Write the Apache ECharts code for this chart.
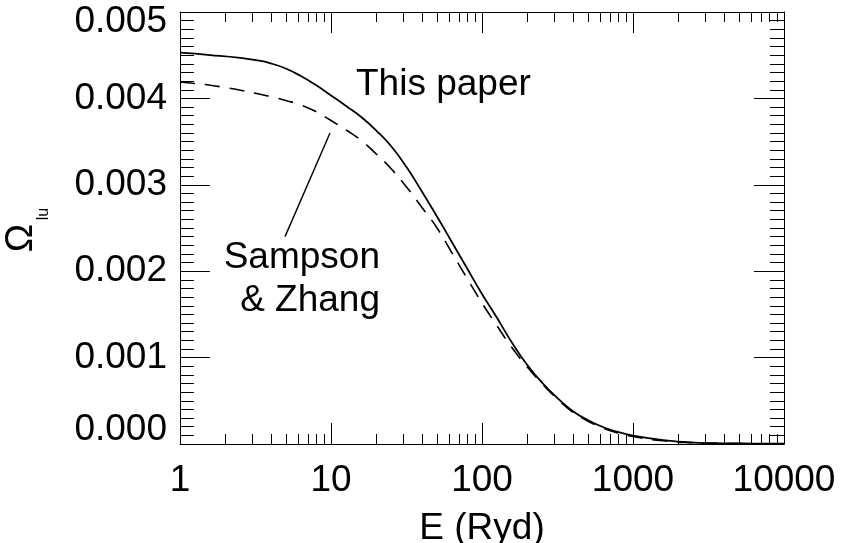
<!DOCTYPE html>
<html>
<head>
<meta charset="utf-8">
<title>Collision strength vs energy</title>
<script src="https://cdn.jsdelivr.net/npm/echarts@6/dist/echarts.min.js"></script>
<style>
  html, body { margin: 0; padding: 0; background: #fff; }
  #chart { width: 841px; height: 543px; }
</style>
</head>
<body>
<div id="chart"></div>
<script>
// Energy grid (Ryd) and collision strengths for the two calculations
const energyThisPaper = [1, 1.585, 2.512, 3.162, 3.981, 5.012, 6.31, 7.943, 10, 12.59, 15.85, 19.95, 25.12, 31.62, 39.81, 50.12, 63.1, 79.43, 100, 125.9, 158.5, 199.5, 251.2, 316.2, 398.1, 501.2, 631, 794.3, 1000, 1585, 2512, 3981, 6310, 10000];
const omegaThisPaper  = [0.004529, 0.004502, 0.004470, 0.004444, 0.004406, 0.004346, 0.004259, 0.004155, 0.004034, 0.003912, 0.003785, 0.003628, 0.003443, 0.003206, 0.002928, 0.002639, 0.002338, 0.002037, 0.001736, 0.001458, 0.001169, 0.000914, 0.000706, 0.000532, 0.000382, 0.000278, 0.000197, 0.000139, 0.000098, 0.000046, 0.000017, 0.000008, 0.000005, 0.000003];

const energySampson = [1, 1.259, 1.585, 1.995, 2.512, 3.162, 3.981, 5.012, 6.31, 7.943, 10, 12.59, 15.85, 19.95, 25.12, 31.62, 39.81, 50.12, 63.1, 79.43, 100, 125.9, 158.5, 199.5, 251.2, 316.2, 398.1, 501.2, 631, 794.3, 1000, 1585, 2512, 3981, 10000];
const omegaSampson  = [0.004190, 0.004172, 0.004153, 0.004125, 0.004094, 0.004059, 0.004021, 0.003976, 0.003924, 0.003848, 0.003744, 0.003634, 0.003513, 0.003356, 0.003183, 0.002975, 0.002743, 0.002506, 0.002216, 0.001921, 0.001632, 0.001366, 0.001111, 0.000891, 0.000694, 0.000521, 0.000370, 0.000266, 0.000185, 0.000127, 0.000087, 0.000037, 0.000014, 0.000006, 0.000002];

// Axis ticks
const xMajorTicks = [1, 10, 100, 1000, 10000];
const xMinorTicks = [2, 3, 4, 5, 6, 7, 8, 9, 20, 30, 40, 50, 60, 70, 80, 90, 200, 300, 400, 500, 600, 700, 800, 900, 2000, 3000, 4000, 5000, 6000, 7000, 8000, 9000];
const yTickLabels = ['0.000', '0.001', '0.002', '0.003', '0.004', '0.005'];

// Leader line from the Sampson & Zhang label to its curve, in data units
const leaderLine = [[4.96, 0.00240], [9.85, 0.00360]];

const FONT = "'Liberation Sans', Arial, Helvetica, sans-serif";
const FS = 37;

const chart = echarts.init(document.getElementById('chart'), null, { renderer: 'canvas' });

function yLabel(v) {
  const idx = Math.round(v / 0.001);
  const txt = yTickLabels[idx];
  if (idx === 0) return '{bot|' + txt + '}';
  if (idx === yTickLabels.length - 1) return '{top|' + txt + '}';
  return txt;
}

const yAxisCommon = {
  type: 'value',
  min: 0,
  max: 0.005,
  interval: 0.001,
  axisLine: { show: true, lineStyle: { color: '#000', width: 1 } },
  axisTick: { show: true, inside: true, length: 30, lineStyle: { color: '#000', width: 1 } },
  minorTick: { show: true, splitNumber: 10, length: 14, lineStyle: { color: '#000', width: 1 } },
  splitLine: { show: false },
  minorSplitLine: { show: false }
};

const xAxisCommon = {
  type: 'log',
  logBase: 10,
  min: 1,
  max: 10000,
  axisLine: { show: true, onZero: false, lineStyle: { color: '#000', width: 1 } },
  axisTick: { show: true, inside: true, length: 21, lineStyle: { color: '#000', width: 1 } },
  splitLine: { show: false }
};

const option = {
  backgroundColor: '#fff',
  animation: false,
  grid: { left: 180, right: 57, top: 12, bottom: 99, containLabel: false, outerBoundsMode: 'none' },
  xAxis: [
    Object.assign({}, xAxisCommon, {
      position: 'bottom',
      name: 'E (Ryd)',
      nameLocation: 'middle',
      nameGap: 66,
      nameTextStyle: { color: '#000', fontSize: FS, fontFamily: FONT },
      axisLabel: {
        show: true, margin: 18, color: '#000', fontSize: FS, fontFamily: FONT,
        formatter: function (v) {
          const r = Math.round(v);
          return xMajorTicks.indexOf(r) >= 0 ? String(r) : '';
        }
      }
    }),
    Object.assign({}, xAxisCommon, { position: 'top', axisLabel: { show: false } })
  ],
  yAxis: [
    Object.assign({}, yAxisCommon, {
      position: 'left',
      axisLabel: {
        show: true, margin: 13, color: '#000', fontSize: FS, fontFamily: FONT,
        formatter: yLabel,
        rich: {
          top: { fontSize: FS, fontFamily: FONT, color: '#000', padding: [20, 0, 0, 0] },
          bot: { fontSize: FS, fontFamily: FONT, color: '#000', padding: [0, 0, 28, 0] }
        }
      }
    }),
    Object.assign({}, yAxisCommon, { position: 'right', axisLabel: { show: false } })
  ],
  series: [
    {
      name: 'This paper',
      type: 'line',
      xAxisIndex: 0, yAxisIndex: 0,
      data: energyThisPaper.map((e, i) => [e, omegaThisPaper[i]]),
      showSymbol: false,
      smooth: 0.5,
      lineStyle: { color: '#000', width: 1.8, type: 'solid' },
      z: 4
    },
    {
      name: 'Sampson & Zhang',
      type: 'line',
      xAxisIndex: 0, yAxisIndex: 0,
      data: energySampson.map((e, i) => [e, omegaSampson[i]]),
      showSymbol: false,
      smooth: 0.5,
      lineStyle: { color: '#000', width: 1.6, type: [15, 10] },
      markLine: {
        silent: true,
        symbol: ['none', 'none'],
        label: { show: false },
        lineStyle: { color: '#000', width: 1.4, type: 'solid' },
        data: [[{ coord: leaderLine[0] }, { coord: leaderLine[1] }]]
      },
      z: 4
    },
    {
      // minor decade ticks along the bottom and top edges
      type: 'custom',
      xAxisIndex: 0, yAxisIndex: 0,
      silent: true,
      clip: false,
      data: xMinorTicks.map(v => [v, 0]),
      renderItem: function (params, api) {
        const x = Math.round(api.coord([api.value(0), 0])[0]) + 0.5;
        const cs = params.coordSys;
        const yb = cs.y + cs.height;
        const yt = cs.y;
        const st = { stroke: '#000', lineWidth: 1 };
        return {
          type: 'group',
          children: [
            { type: 'line', shape: { x1: x, y1: yb, x2: x, y2: yb - 10 }, style: st },
            { type: 'line', shape: { x1: x, y1: yt, x2: x, y2: yt + 10 }, style: st }
          ]
        };
      },
      z: 3
    }
  ],
  graphic: [
    {
      type: 'text', x: 22, y: 238, rotation: Math.PI / 2,
      style: { text: 'Ω', fontSize: 38, fontFamily: FONT, fill: '#000', align: 'center', verticalAlign: 'middle' }
    },
    {
      type: 'text', x: 44, y: 214, rotation: Math.PI / 2,
      style: { text: 'lu', fontSize: 16, fontFamily: FONT, fill: '#000', align: 'center', verticalAlign: 'middle' }
    },
    {
      type: 'text', x: 356, y: 85,
      style: { text: 'This paper', fontSize: FS, fontFamily: FONT, fill: '#000', align: 'left', verticalAlign: 'middle' }
    },
    {
      type: 'text', x: 380, y: 279,
      style: { text: 'Sampson\n& Zhang', fontSize: FS, lineHeight: 43, fontFamily: FONT, fill: '#000', align: 'right', verticalAlign: 'middle' }
    }
  ]
};

chart.setOption(option);
</script>
</body>
</html>
